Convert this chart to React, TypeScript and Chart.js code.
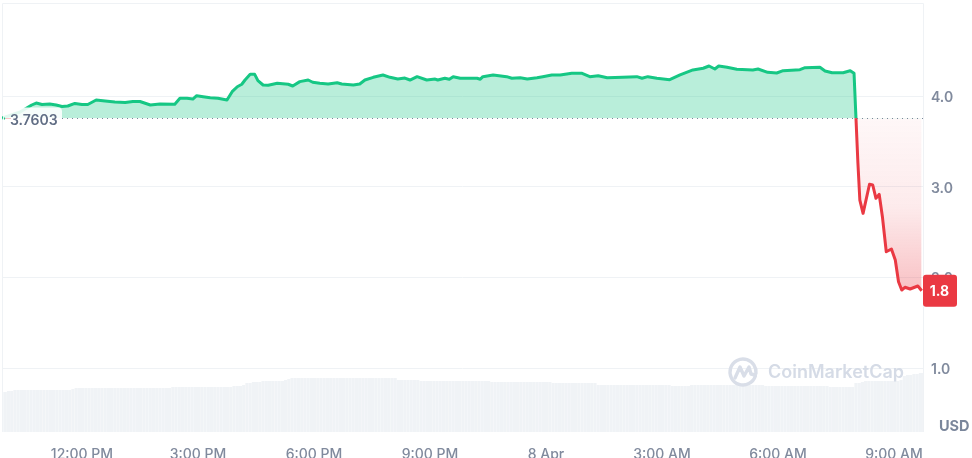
import React, { useEffect, useRef } from "react";
import { Chart, registerables } from "chart.js";

Chart.register(...registerables);

const basePrice = 3.7603;
const lastPriceLabel = "1.8";
const baseLabel = "3.7603";
const currencyLabel = "USD";
const watermarkLabel = "CoinMarketCap";

// minutes relative to 12:00 PM
const priceMinutes = [
  -124, -96, -78, -71, -62, -50, -40, -31, -22, -11, 0, 9, 22, 36, 51, 67, 79, 90, 106, 121,
  144, 152, 163, 172, 178, 188, 199, 211, 225, 233, 241, 248, 253, 261, 268, 273, 281, 289, 303, 320,
  327, 338, 351, 358, 369, 382, 396, 403, 421, 431, 439, 452, 467, 478, 490, 501, 509, 520, 535, 548,
  552, 563, 570, 576, 587, 613, 618, 622, 638, 659, 667, 680, 691, 706, 715, 729, 742, 760, 776, 788,
  801, 815, 839, 861, 869, 878, 892, 912, 928, 948, 964, 973, 982, 988, 1001, 1016, 1041, 1049, 1064, 1078,
  1088, 1114, 1122, 1145, 1153, 1164, 1181, 1192, 1198, 1201, 1204, 1207, 1212, 1222, 1227, 1232, 1237, 1242, 1248, 1256,
  1262, 1267, 1272, 1277, 1285, 1297, 1303,
];
const priceValues = [
  3.7603, 3.829, 3.906, 3.928, 3.912, 3.917, 3.906, 3.89, 3.895, 3.923, 3.912, 3.912, 3.961, 3.95, 3.939, 3.934, 3.945, 3.945, 3.906, 3.917,
  3.914, 3.98, 3.98, 3.972, 4.009, 3.998, 3.987, 3.98, 3.961, 4.053, 4.108, 4.135, 4.182, 4.245, 4.245, 4.175, 4.127, 4.124, 4.146, 4.135,
  4.116, 4.164, 4.182, 4.157, 4.146, 4.138, 4.152, 4.138, 4.127, 4.138, 4.182, 4.212, 4.238, 4.212, 4.193, 4.204, 4.182, 4.219, 4.182, 4.193,
  4.182, 4.201, 4.19, 4.219, 4.201, 4.201, 4.19, 4.219, 4.238, 4.219, 4.201, 4.208, 4.193, 4.208, 4.219, 4.238, 4.238, 4.256, 4.256, 4.219,
  4.23, 4.208, 4.212, 4.219, 4.201, 4.219, 4.201, 4.186, 4.238, 4.293, 4.312, 4.337, 4.304, 4.337, 4.323, 4.301, 4.293, 4.304, 4.267, 4.26,
  4.285, 4.296, 4.318, 4.323, 4.282, 4.263, 4.263, 4.285, 4.256, 3.7603, 3.265, 2.856, 2.709, 3.03, 3.022, 2.875, 2.919, 2.672, 2.285, 2.315,
  2.193, 1.954, 1.862, 1.892, 1.873, 1.906, 1.854,
];

const volumeStartMinute = -124;
const volumeStepMinutes = 5;
const volumeValues = [
  40, 40, 41, 41, 42, 42, 42, 42, 42, 42, 42, 42, 42, 42, 42, 42,
  42, 42, 42, 42, 42, 42, 43, 44, 44, 44, 44, 44, 44, 44, 44, 44,
  44, 44, 44, 44, 44, 44, 44, 44, 44, 44, 44, 44, 44, 44, 44, 44,
  44, 44, 44, 44, 44, 45, 45, 45, 45, 45, 45, 45, 45, 45, 45, 45,
  45, 45, 45, 45, 45, 45, 45, 45, 46, 46, 46, 47, 49, 49, 50, 50,
  50, 51, 51, 51, 51, 51, 51, 51, 52, 53, 54, 54, 54, 54, 54, 54,
  54, 54, 54, 54, 54, 54, 54, 54, 54, 54, 54, 54, 54, 54, 54, 54,
  54, 54, 54, 54, 54, 54, 54, 54, 54, 54, 54, 52, 52, 52, 52, 52,
  52, 52, 51, 51, 51, 51, 51, 51, 51, 51, 51, 51, 51, 51, 51, 51,
  51, 51, 51, 51, 51, 51, 51, 51, 50, 50, 50, 50, 50, 50, 50, 50,
  50, 50, 50, 50, 50, 50, 50, 50, 50, 50, 50, 49, 49, 49, 49, 49,
  49, 49, 49, 49, 49, 49, 49, 49, 49, 47, 47, 47, 47, 47, 47, 47,
  47, 47, 47, 47, 47, 47, 47, 47, 47, 47, 47, 47, 47, 47, 47, 47,
  46, 46, 46, 46, 46, 46, 47, 47, 47, 47, 47, 47, 47, 47, 47, 47,
  47, 47, 47, 47, 47, 47, 47, 47, 47, 47, 47, 47, 47, 46, 46, 46,
  46, 46, 46, 46, 46, 46, 46, 46, 46, 46, 46, 46, 46, 46, 46, 46,
  46, 45, 45, 45, 45, 45, 45, 45, 45, 49, 49, 50, 51, 51, 51, 51,
  51, 51, 51, 51, 51, 51, 51, 52, 56, 57, 57, 58, 58, 59, 59, 60,
];

const xTickMinutes = [0, 180, 360, 540, 720, 900, 1080, 1260];
const xTickLabels = ["12:00 PM", "3:00 PM", "6:00 PM", "9:00 PM", "8 Apr", "3:00 AM", "6:00 AM", "9:00 AM"];
const yTickValues = [1, 2, 3, 4];

const GREEN = "#16c784";
const RED = "#ea3943";
const GRID = "#eff2f5";
const TICK = "#808a9d";
const FONT = "Inter, sans-serif";

const overlayPlugin = {
  id: "overlay",
  beforeDatasetsDraw(chart: any) {
    const { ctx, chartArea: a } = chart;
    ctx.save();
    ctx.strokeStyle = GRID;
    ctx.lineWidth = 1;
    ctx.beginPath();
    ctx.moveTo(a.left + 0.5, a.bottom);
    ctx.lineTo(a.left + 0.5, a.top + 0.5);
    ctx.lineTo(a.right + 0.5, a.top + 0.5);
    ctx.lineTo(a.right + 0.5, a.bottom);
    ctx.stroke();
    ctx.restore();
  },
  afterDatasetsDraw(chart: any) {
    const { ctx, chartArea: a, scales } = chart;
    const baseY = Math.round(scales.y.getPixelForValue(basePrice)) + 0.5;
    const lastY = scales.y.getPixelForValue(priceValues[priceValues.length - 1]);
    ctx.save();

    // dotted reference line
    ctx.strokeStyle = "#7b869a";
    ctx.lineWidth = 1;
    ctx.setLineDash([1, 4]);
    ctx.beginPath();
    ctx.moveTo(a.left + 60, baseY);
    ctx.lineTo(a.right, baseY);
    ctx.stroke();
    ctx.setLineDash([]);

    // base price tag
    ctx.fillStyle = "rgba(255,255,255,0.88)";
    ctx.beginPath();
    ctx.roundRect(a.left + 1, baseY - 11, 59, 22, 4);
    ctx.fill();
    ctx.fillStyle = GREEN;
    ctx.fillRect(a.left + 2, baseY - 1, 1, 2);
    ctx.fillStyle = "rgba(234,57,67,0.3)";
    ctx.fillRect(a.left + 3, baseY - 0.5, 6, 1);
    ctx.fillStyle = "#616e85";
    ctx.font = `600 14px ${FONT}`;
    ctx.textAlign = "left";
    ctx.textBaseline = "middle";
    ctx.fillText(baseLabel, a.left + 8, baseY + 2.5);

    // watermark
    const logoX = a.right - 180;
    const logoY = 372;
    ctx.strokeStyle = "#d9dee8";
    ctx.lineWidth = 3.4;
    ctx.lineCap = "round";
    ctx.lineJoin = "round";
    ctx.beginPath();
    ctx.arc(logoX, logoY, 13, 0.1 * Math.PI, 2.03 * Math.PI);
    ctx.stroke();
    ctx.beginPath();
    ctx.moveTo(logoX - 8, logoY + 6);
    ctx.lineTo(logoX - 3, logoY - 5);
    ctx.lineTo(logoX + 1, logoY + 4);
    ctx.lineTo(logoX + 6, logoY - 5);
    ctx.lineTo(logoX + 8, logoY + 2);
    ctx.lineTo(logoX + 12, logoY + 3);
    ctx.stroke();
    ctx.fillStyle = "#d5dbe6";
    ctx.font = `600 18px ${FONT}`;
    ctx.fillText(watermarkLabel, a.right - 155, logoY + 1);

    // last price badge
    ctx.fillStyle = RED;
    ctx.beginPath();
    ctx.roundRect(a.right, lastY - 16, 34, 32, 3);
    ctx.fill();
    ctx.fillStyle = "#ffffff";
    ctx.font = `700 14px ${FONT}`;
    ctx.textAlign = "center";
    ctx.fillText(lastPriceLabel, a.right + 16.5, lastY + 1);

    // currency
    ctx.fillStyle = "#7a869b";
    ctx.font = `700 14.5px ${FONT}`;
    ctx.textAlign = "left";
    ctx.fillText(currencyLabel, 939, 427);
    ctx.restore();
  },
};

export default function App() {
  const ref = useRef<HTMLCanvasElement>(null);

  useEffect(() => {
    const canvas = ref.current as HTMLCanvasElement;
    const ctx = canvas.getContext("2d") as CanvasRenderingContext2D;
    const redFill = ctx.createLinearGradient(0, 118, 0, 295);
    redFill.addColorStop(0, "rgba(234,57,67,0.04)");
    redFill.addColorStop(0.5, "rgba(234,57,67,0.1)");
    redFill.addColorStop(1, "rgba(234,57,67,0.32)");

    const chart = new Chart(canvas, {
      type: "bar",
      data: {
        datasets: [
          {
            type: "line",
            data: priceMinutes.map((x, i) => ({ x, y: priceValues[i] })),
            yAxisID: "y",
            borderWidth: 3,
            borderColor: GREEN,
            pointRadius: 0,
            tension: 0,
            borderJoinStyle: "round",
            order: 1,
            fill: {
              target: { value: basePrice },
              above: "rgba(22,199,132,0.3)",
              below: redFill,
            },
            segment: {
              borderColor: (c: any) => (c.p1.parsed.y < basePrice ? RED : GREEN),
            },
          } as any,
          {
            type: "bar",
            data: volumeValues.map((y, i) => ({ x: volumeStartMinute + i * volumeStepMinutes, y })),
            yAxisID: "v",
            backgroundColor: "#f0f3f6",
            borderWidth: 0,
            barPercentage: 0.98,
            categoryPercentage: 1,
            order: 2,
          } as any,
        ],
      },
      options: {
        responsive: false,
        animation: false,
        layout: { padding: { left: 2, top: 3, right: 0, bottom: 0 } },
        plugins: { legend: { display: false }, tooltip: { enabled: false } },
        scales: {
          x: {
            type: "linear",
            min: -124.1,
            max: 1305,
            offset: false,
            grid: { display: false },
            border: { display: false },
            afterBuildTicks: (s: any) => {
              s.ticks = xTickMinutes.map((value) => ({ value }));
            },
            afterFit: (s: any) => {
              s.height = 26;
              s.paddingLeft = 0;
              s.paddingRight = 0;
            },
            ticks: {
              autoSkip: false,
              maxRotation: 0,
              padding: 6,
              color: TICK,
              font: { family: FONT, size: 14, weight: "500" },
              callback: (v: any) => xTickLabels[xTickMinutes.indexOf(Number(v))] ?? "",
            },
          },
          y: {
            type: "linear",
            position: "right",
            min: 0.293,
            max: 5.033,
            grid: { color: GRID, lineWidth: 1, drawTicks: false },
            border: { display: false },
            afterBuildTicks: (s: any) => {
              s.ticks = yTickValues.map((value) => ({ value }));
            },
            afterFit: (s: any) => {
              s.width = 49;
              s.paddingTop = 0;
              s.paddingBottom = 0;
            },
            ticks: {
              padding: 8,
              labelOffset: 1.5,
              color: TICK,
              font: { family: FONT, size: 14, weight: "600" },
              callback: (v: any) => Number(v).toFixed(1),
            },
          },
          v: {
            type: "linear",
            display: false,
            min: 0,
            max: 429,
          },
        },
      } as any,
      plugins: [overlayPlugin],
    });
    return () => chart.destroy();
  }, []);

  return (
    <div style={{ position: "fixed", left: 0, top: 0, width: 972, height: 458, background: "#fff" }}>
      <canvas ref={ref} width={972} height={458} style={{ display: "block", width: 972, height: 458 }} />
    </div>
  );
}
